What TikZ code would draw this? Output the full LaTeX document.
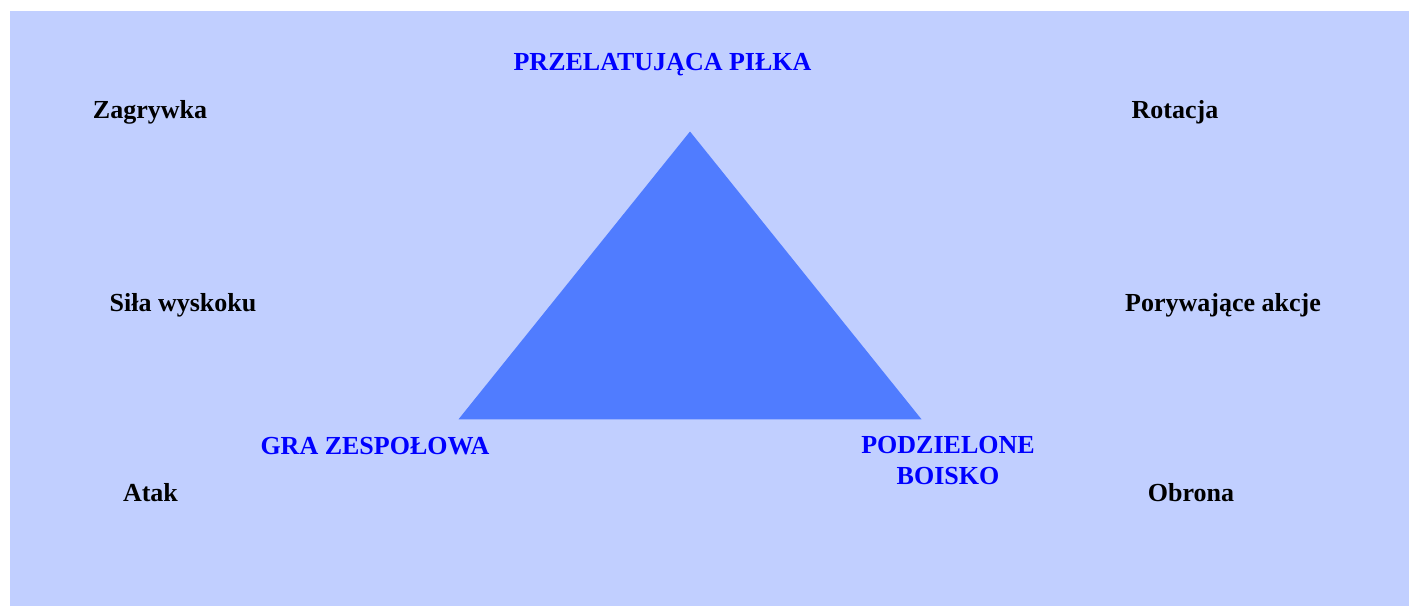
\documentclass[tikz,border=0pt]{standalone}
\usepackage{fontspec}
\setmainfont{Liberation Serif}
\definecolor{bgblue}{RGB}{193,207,255}
\definecolor{triblue}{RGB}{80,124,255}
\definecolor{txtblue}{RGB}{0,0,255}
\begin{document}
\begin{tikzpicture}[x=1pt,y=-1pt,
  lbl/.style={inner sep=0pt,anchor=base,font=\fontsize{26}{30.7}\selectfont\bfseries},
  blbl/.style={lbl,text=txtblue},
  klbl/.style={lbl,text=black}]
\useasboundingbox (0,0) rectangle (1409,606);
\fill[bgblue] (10,11) rectangle (1409,606);
\coordinate (apex) at (690,131.5);
\coordinate (bl) at (458.5,419.3);
\coordinate (br) at (921.5,419.3);
\fill[triblue] (apex) -- (br) -- (bl) -- cycle;
\node[blbl] (top) at (662.5,70.7) {PRZELATUJĄCA PIŁKA};
\node[blbl] (gra) at (375,454) {GRA ZESPOŁOWA};
\node[blbl,align=center] (podz) at (948,484) {PODZIELONE\\BOISKO};
\node[klbl] (zag) at (150,118) {Zagrywka};
\node[klbl] (rot) at (1175,118) {Rotacja};
\node[klbl] (sila) at (183,311) {Siła wyskoku};
\node[klbl] (pory) at (1223,311) {Porywające akcje};
\node[klbl] (atak) at (150.5,501.7) {Atak};
\node[klbl] (obr) at (1191,501.7) {Obrona};
\end{tikzpicture}
\end{document}
